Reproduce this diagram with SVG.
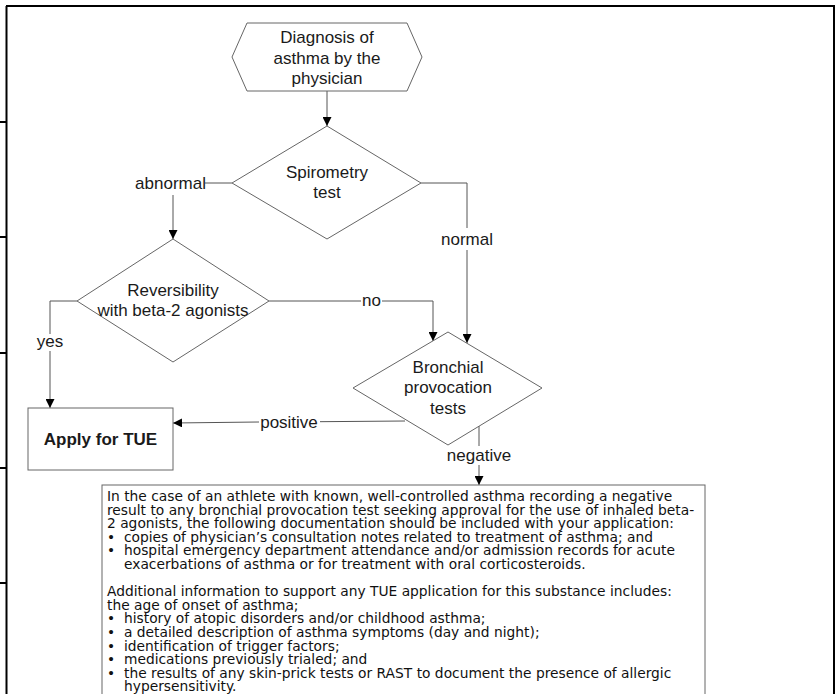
<svg xmlns="http://www.w3.org/2000/svg" width="838" height="694" viewBox="0 0 838 694">
<style>
.frame{stroke:#000;stroke-width:2;fill:none}
.shape{fill:#fff;stroke:#666;stroke-width:1}
.conn{fill:none;stroke:#555;stroke-width:1}
.t{font-family:"Liberation Sans",Arial,sans-serif;font-size:17px;fill:#1a1a1a;text-anchor:middle}
.b{font-weight:bold}
.bx{font-family:"DejaVu Sans",Verdana,sans-serif;font-size:13.8px;fill:#111}
</style>
<defs>
<marker id="ah" markerUnits="userSpaceOnUse" markerWidth="9" markerHeight="9" viewBox="0 0 10 10" refX="10" refY="5" orient="auto">
<path d="M0,0 L10,5 L0,10 z" fill="#000"/>
</marker>
</defs>
<rect width="838" height="694" fill="#fff"/>
<g id="frame">
<path class="frame" d="M6,6 H835 M6.5,6 V694 M834,5 V694 M0,122 H6 M0,237 H6 M0,353 H6 M0,468 H6 M0,583 H6"/>
</g>
<g id="connectors">
<path class="conn" d="M327,91 V126" marker-end="url(#ah)"/>
<path class="conn" d="M205,183 H232"/>
<path class="conn" d="M173,195 V239" marker-end="url(#ah)"/>
<path class="conn" d="M77,301 H50 V334"/>
<path class="conn" d="M50,351 V408" marker-end="url(#ah)"/>
<path class="conn" d="M269,301 H361"/>
<path class="conn" d="M382,301 H433 V341" marker-end="url(#ah)"/>
<path class="conn" d="M421,183 H467 V228"/>
<path class="conn" d="M467,250 V343" marker-end="url(#ah)"/>
<path class="conn" d="M405,421 L320,421.7"/>
<path class="conn" d="M259,422 L173,423" marker-end="url(#ah)"/>
<path class="conn" d="M479,426 V446"/>
<path class="conn" d="M479,465 V485" marker-end="url(#ah)"/>
<text class="t" x="170.5" y="189">abnormal</text>
<text class="t" x="50" y="347">yes</text>
<text class="t" x="371.5" y="306">no</text>
<text class="t" x="467" y="245">normal</text>
<text class="t" x="289" y="428">positive</text>
<text class="t" x="479" y="461">negative</text>
</g>
<g id="diagnosis">
<polygon class="shape" points="232,57 247,23 407,23 422,57 407,91 247,91"/>
<text class="t" x="327" y="43">Diagnosis of</text>
<text class="t" x="327" y="63.5">asthma by the</text>
<text class="t" x="327" y="84">physician</text>
</g>
<g id="spirometry">
<polygon class="shape" points="327,126 421,183 327,239 232,183"/>
<text class="t" x="327" y="178">Spirometry</text>
<text class="t" x="327" y="198">test</text>
</g>
<g id="reversibility">
<polygon class="shape" points="173,239 269,301 173,362 77,301"/>
<text class="t" x="173" y="296">Reversibility</text>
<text class="t" x="173" y="316">with beta-2 agonists</text>
</g>
<g id="bronchial">
<polygon class="shape" points="448,332 542,388 448,445 353,388"/>
<text class="t" x="448" y="373">Bronchial</text>
<text class="t" x="448" y="393">provocation</text>
<text class="t" x="448" y="413.5">tests</text>
</g>
<g id="apply">
<rect class="shape" x="28" y="408" width="145" height="62"/>
<text class="t b" x="100.5" y="445">Apply for TUE</text>
</g>
<g id="info">
<rect class="shape" x="102" y="485" width="603" height="230"/>
<text class="bx" x="107" y="501">In the case of an athlete with known, well-controlled asthma recording a negative</text>
<text class="bx" x="107" y="514.6">result to any bronchial provocation test seeking approval for the use of inhaled beta-</text>
<text class="bx" x="107" y="528.2">2 agonists, the following documentation should be included with your application:</text>
<text class="bx" x="107" y="541.8">•</text>
<text class="bx" x="124" y="541.8">copies of physician’s consultation notes related to treatment of asthma; and</text>
<text class="bx" x="107" y="555.4">•</text>
<text class="bx" x="124" y="555.4">hospital emergency department attendance and/or admission records for acute</text>
<text class="bx" x="124" y="569">exacerbations of asthma or for treatment with oral corticosteroids.</text>
<text class="bx" x="107" y="596.2">Additional information to support any TUE application for this substance includes:</text>
<text class="bx" x="107" y="609.8">the age of onset of asthma;</text>
<text class="bx" x="107" y="623.4">•</text>
<text class="bx" x="124" y="623.4">history of atopic disorders and/or childhood asthma;</text>
<text class="bx" x="107" y="637">•</text>
<text class="bx" x="124" y="637">a detailed description of asthma symptoms (day and night);</text>
<text class="bx" x="107" y="650.6">•</text>
<text class="bx" x="124" y="650.6">identification of trigger factors;</text>
<text class="bx" x="107" y="664.2">•</text>
<text class="bx" x="124" y="664.2">medications previously trialed; and</text>
<text class="bx" x="107" y="677.8">•</text>
<text class="bx" x="124" y="677.8">the results of any skin-prick tests or RAST to document the presence of allergic</text>
<text class="bx" x="124" y="691.4">hypersensitivity.</text>
</g>
</svg>
